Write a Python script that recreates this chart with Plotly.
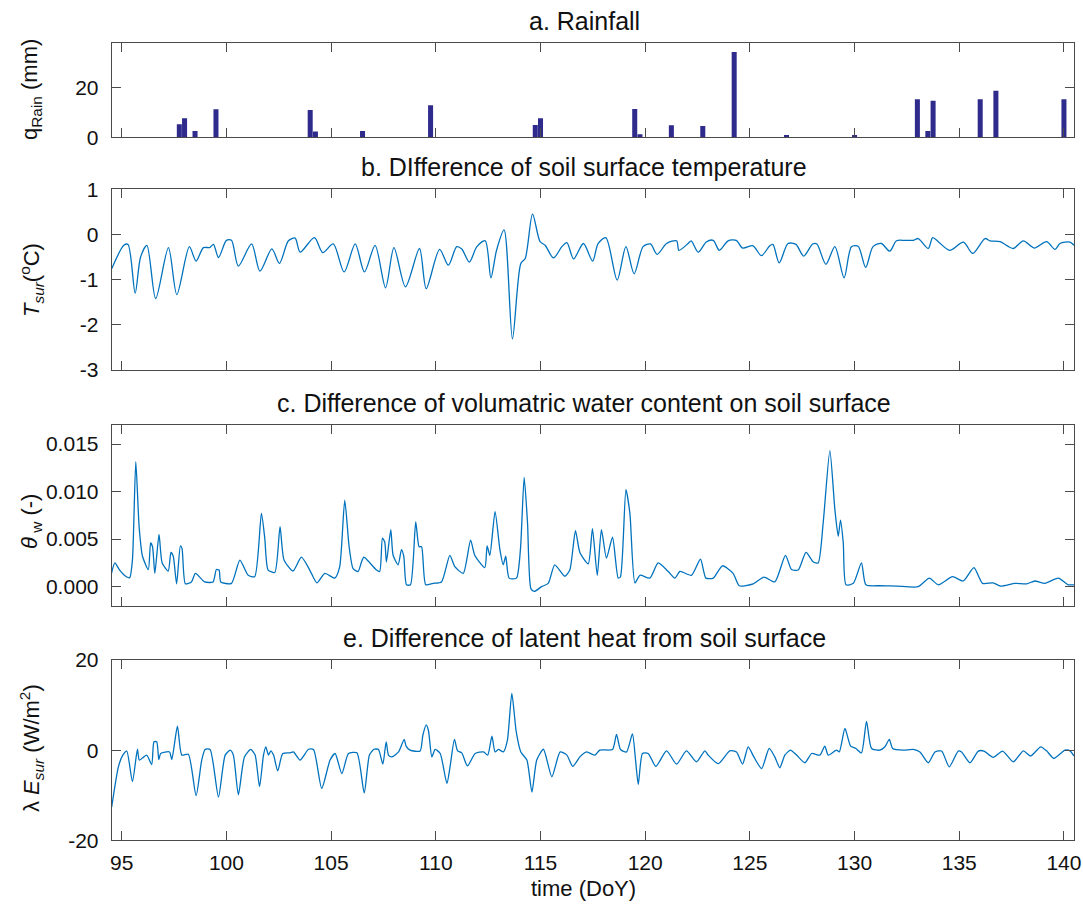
import plotly.graph_objects as go

W, H = 1083, 905

# ---------------- data ----------------
rain_day = [97.75, 98.0, 98.5, 99.5, 104.0, 104.25, 106.5, 109.75, 114.75, 115.0,
            119.5, 119.75, 121.25, 122.75, 124.25, 126.75, 130.0, 133.0, 133.5,
            133.75, 136.0, 136.75, 140.0]
rain_mm = [5.2, 7.6, 2.5, 11.2, 10.9, 2.3, 2.5, 12.8, 4.9, 7.6,
           11.3, 1.2, 4.8, 4.5, 34.1, 0.9, 0.9, 15.2, 2.5,
           14.6, 15.2, 18.6, 15.2]

tsur_day = [94.52, 95.1, 95.3, 95.64, 95.9, 96.2, 96.62, 97.23, 97.63, 98.23,
            98.55, 98.9, 99.2, 99.38, 99.62, 100.0, 100.24, 100.57, 101.2, 101.6,
            102.17, 102.53, 102.96, 103.28, 103.52, 104.2, 104.6, 105.1, 105.62, 106.15,
            106.59, 107.1, 107.6, 108.0, 108.55, 109.22, 109.54, 110.18, 110.6, 111.0,
            111.24, 111.6, 111.96, 112.36, 112.63, 112.9, 113.26, 113.66, 114.06, 114.27,
            114.62, 114.98, 115.22, 115.62, 116.02, 116.26, 116.58, 117.05, 117.49, 117.75,
            118.12, 118.66, 119.08, 119.47, 119.9, 120.25, 120.57, 121.02, 121.5, 121.61,
            122.05, 122.2, 122.53, 122.93, 123.25, 123.54, 123.96, 124.35, 124.65, 125.15,
            125.55, 125.95, 126.1, 126.4, 126.82, 127.2, 127.57, 128.0, 128.2, 128.63,
            129.06, 129.5, 129.85, 130.17, 130.53, 130.88, 131.28, 131.68, 132.0, 132.4,
            132.8, 133.04, 133.52, 133.73, 134.0, 134.54, 135.2, 135.64, 136.23, 136.47,
            136.95, 137.58, 138.06, 138.58, 139.17, 139.57, 139.81, 140.29, 140.48]
tsur_diff = [-0.76, -0.24, -0.22, -1.30, -0.50, -0.24, -1.42, -0.29, -1.33, -0.27,
             -0.59, -0.29, -0.29, -0.22, -0.51, -0.13, -0.13, -0.70, -0.21, -0.81,
             -0.32, -0.64, -0.14, -0.08, -0.39, -0.07, -0.40, -0.21, -0.83, -0.21,
             -0.83, -0.24, -1.18, -0.29, -1.16, -0.31, -1.20, -0.33, -0.68, -0.27,
             -0.32, -0.61, -0.27, -0.14, -0.96, -0.35, 0.10, -2.31, -0.64, -0.53,
             0.45, -0.16, -0.24, -0.52, -0.27, -0.18, -0.54, -0.20, -0.59, -0.20,
             -0.07, -1.01, -0.27, -0.87, -0.27, -0.21, -0.44, -0.20, -0.14, -0.35,
             -0.20, -0.14, -0.39, -0.16, -0.13, -0.35, -0.14, -0.13, -0.30, -0.25,
             -0.47, -0.25, -0.22, -0.63, -0.20, -0.22, -0.48, -0.21, -0.21, -0.66,
             -0.27, -0.96, -0.27, -0.26, -0.73, -0.27, -0.20, -0.37, -0.14, -0.13,
             -0.13, -0.09, -0.31, -0.07, -0.16, -0.35, -0.17, -0.42, -0.09, -0.14,
             -0.16, -0.31, -0.14, -0.30, -0.16, -0.33, -0.20, -0.17, -0.24]

theta_day = [94.51, 94.67, 94.9, 95.22, 95.38, 95.51, 95.67, 95.83, 95.99, 96.27,
             96.38, 96.47, 96.58, 96.78, 96.93, 97.22, 97.35, 97.46, 97.62, 97.8,
             97.88, 98.04, 98.33, 98.52, 98.96, 99.36, 99.52, 99.65, 99.73, 100.24,
             100.64, 101.04, 101.35, 101.67, 101.83, 101.99, 102.31, 102.56, 102.75, 103.18,
             103.58, 103.98, 104.32, 104.7, 105.18, 105.41, 105.65, 105.86, 106.05, 106.29,
             106.45, 106.56, 106.77, 107.17, 107.32, 107.45, 107.56, 107.64, 107.85, 107.96,
             108.2, 108.36, 108.47, 108.6, 108.79, 109.04, 109.2, 109.32, 109.52, 109.87,
             110.27, 110.67, 110.91, 111.31, 111.66, 111.86, 112.34, 112.45, 112.58, 112.83,
             113.06, 113.22, 113.34, 113.5, 113.85, 114.04, 114.22, 114.38, 114.54, 114.7,
             115.05, 115.37, 115.68, 116.16, 116.4, 116.67, 116.88, 117.28, 117.48, 117.71,
             117.91, 118.15, 118.44, 118.71, 118.82, 119.08, 119.27, 119.51, 119.75, 120.22,
             120.62, 121.1, 121.42, 121.66, 122.21, 122.64, 122.9, 123.25, 123.69, 124.2,
             124.49, 125.16, 125.67, 126.19, 126.7, 126.99, 127.31, 127.68, 128.03, 128.26,
             128.5, 128.82, 129.06, 129.22, 129.33, 129.46, 129.59, 129.94, 130.33, 130.54,
             131.21, 132.01, 133.04, 133.57, 134.0, 134.68, 135.19, 135.7, 136.11, 136.62,
             136.97, 137.66, 138.22, 138.61, 139.09, 139.73, 140.21, 140.48]
theta_diff = [0.0014, 0.0025, 0.00175, 0.00105, 0.00095, 0.0028, 0.01314, 0.0063, 0.0032, 0.0018,
              0.0046, 0.0042, 0.0014, 0.0055, 0.0025, 0.00165, 0.0036, 0.0032, 0.0003, 0.0043,
              0.0040, 0.0003, 0.0005, 0.0014, 0.0005, 0.0005, 0.0018, 0.00175, 0.0005, 0.00035,
              0.0028, 0.0012, 0.00105, 0.0077, 0.0051, 0.00175, 0.0015, 0.0063, 0.0028, 0.00165,
              0.0031, 0.00175, 0.0004, 0.0014, 0.0009, 0.0021, 0.0091, 0.0042, 0.0019, 0.0016,
              0.0026, 0.0031, 0.0027, 0.00175, 0.0016, 0.0051, 0.0047, 0.0026, 0.0060, 0.0033,
              0.0023, 0.0039, 0.0032, 0.0002, 0.0002, 0.0068, 0.0042, 0.0042, 0.0002, 0.00035,
              0.0005, 0.0033, 0.0021, 0.0014, 0.0049, 0.0033, 0.0020, 0.0043, 0.0033, 0.0079,
              0.0039, 0.0023, 0.0032, 0.0009, 0.0009, 0.0039, 0.0115, 0.0067, -0.0002, -0.0005,
              0.0, 0.00035, 0.0023, 0.0011, 0.00175, 0.0059, 0.0036, 0.0024, 0.0061, 0.0012,
              0.0060, 0.0030, 0.0052, 0.0009, 0.00105, 0.0102, 0.0077, 0.0004, 0.0012, 0.0009,
              0.0025, 0.0016, 0.0009, 0.0016, 0.0012, 0.0029, 0.0009, 0.0009, 0.0022, 0.0014,
              0.0001, 0.0003, 0.0010, 0.0005, 0.0033, 0.0018, 0.00175, 0.0036, 0.0026, 0.0025,
              0.0067, 0.0143, 0.0081, 0.0053, 0.0070, 0.0046, 0.0002, 0.00035, 0.0025, 0.0002,
              0.0001, 0.00007, 0.0, 0.0009, 0.0002, 0.00105, 0.0006, 0.0020, 0.00035, 0.0004,
              0.00007, 0.00035, 0.0003, 0.0006, 0.00035, 0.0009, 0.0002, 0.0002]

le_day = [94.52, 94.84, 95.05, 95.24, 95.51, 95.75, 95.84, 96.19, 96.43, 96.54,
          96.67, 96.77, 96.86, 97.28, 97.39, 97.66, 97.87, 98.18, 98.55, 98.82,
          98.98, 99.22, 99.62, 99.94, 100.18, 100.33, 100.57, 100.86, 101.16, 101.37,
          101.58, 101.77, 101.88, 102.01, 102.12, 102.25, 102.45, 102.69, 103.04, 103.2,
          103.52, 103.92, 104.16, 104.55, 104.95, 105.19, 105.51, 105.83, 106.23, 106.58,
          106.83, 107.05, 107.26, 107.47, 107.63, 107.74, 107.9, 108.22, 108.49, 108.58,
          108.77, 109.25, 109.38, 109.54, 109.65, 109.81, 109.97, 110.21, 110.53, 110.68,
          110.89, 111.04, 111.24, 111.51, 111.88, 112.28, 112.48, 112.68, 112.83, 112.99,
          113.23, 113.42, 113.63, 113.84, 114.06, 114.35, 114.59, 114.82, 115.14, 115.54,
          115.94, 116.26, 116.54, 116.88, 117.2, 117.6, 117.83, 118.44, 118.63, 118.82,
          119.11, 119.39, 119.54, 119.67, 119.87, 120.14, 120.51, 121.02, 121.5, 121.97,
          122.45, 122.85, 123.01, 123.49, 124.04, 124.36, 124.65, 124.92, 125.19, 125.56,
          125.92, 126.19, 126.43, 126.67, 126.94, 127.23, 127.63, 127.95, 128.34, 128.58,
          128.74, 129.14, 129.27, 129.54, 129.81, 130.06, 130.33, 130.57, 130.81, 131.21,
          131.45, 131.66, 131.82, 132.32, 132.8, 133.12, 133.52, 133.84, 134.16, 134.52,
          134.95, 135.11, 135.51, 135.91, 136.18, 136.62, 137.07, 137.58, 138.06, 138.41,
          138.89, 139.17, 139.52, 140.05, 140.29, 140.48]
le_diff = [-12.6, -3.7, -1.1, -0.2, -7.0, 0.2, -2.2, -1.1, -3.2, 1.85,
           1.85, -2.1, -0.74, -0.4, -2.1, 5.3, -1.1, -0.9, -10.1, -2.2,
           0.15, 0.15, -10.4, -1.1, 0.0, -1.1, -9.9, -1.5, 0.15, -1.1,
           -8.1, -1.1, 0.74, -1.1, -0.15, -1.1, -4.6, -0.74, -0.6, -0.4,
           -2.2, 0.2, 0.15, -8.5, -2.2, -0.74, -5.2, -0.74, -0.6, -9.5,
           -1.1, 0.2, 0.15, -3.1, 1.85, -1.1, -1.5, -0.4, 2.4, 0.9,
           0.0, -0.2, 3.3, 5.6, 4.3, -1.5, 0.15, -0.74, -7.4, -3.7,
           2.4, -0.15, -0.6, -3.5, -0.74, -0.4, -1.1, 3.1, -0.4, 0.15,
           -0.4, 2.2, 12.6, 4.1, -0.4, -2.2, -9.3, -2.2, 0.2, -5.9,
           -0.4, -1.1, -3.6, -1.5, -0.4, -1.1, 0.0, 0.15, 3.5, 0.15,
           -0.4, 3.6, -2.2, -7.6, -0.74, -0.74, -3.6, -0.15, -3.1, -0.15,
           -2.6, -0.15, -1.1, -3.0, -0.15, -0.4, -3.1, 0.74, -1.5, -4.1,
           0.37, -1.5, -3.9, -1.1, 0.0, -1.1, -2.8, -0.74, -1.1, 0.9,
           -1.1, 0.0, -0.4, 4.8, 0.9, 0.37, -0.6, 6.4, 0.37, 0.0,
           0.74, 2.4, 0.37, 0.0, 0.15, -0.4, -2.8, -0.4, -0.2, -3.7,
           -0.2, -0.4, -2.8, -0.2, -0.2, -1.6, -0.2, -2.6, -0.15, -1.3,
           0.74, -0.15, -1.85, 0.0, -0.15, -1.3]

x_ticks = [95, 100, 105, 110, 115, 120, 125, 130, 135, 140]
x_range = [94.52, 140.48]

rain_ticks = [0, 20]
tsur_ticks = [-3, -2, -1, 0, 1]
theta_ticks = [0.0, 0.005, 0.010, 0.015]
le_ticks = [-20, 0, 20]

# ---------------- layout helpers ----------------
FONT = "Liberation Sans, Arial, Helvetica, sans-serif"
LINE_BLUE = "#0072BD"
BAR_BLUE = "#2e2b8c"
AX_COL = "#4a4a4a"
TXT = "#111111"

# panel vertical extents in pixels (top, bottom)
panels = {
    "a": (42.7, 137.3),
    "b": (189.3, 370.0),
    "c": (425.0, 606.0),
    "e": (660.0, 840.3),
}
x_dom = [111.7 / W, 1074.0 / W]


def ydom(top, bottom):
    return [1 - bottom / H, 1 - top / H]


def labels(vals, fmt="{:g}"):
    # plain hyphen-minus for negative tick labels
    return [fmt.format(v) for v in vals]


fig = go.Figure()

fig.add_trace(go.Bar(x=rain_day, y=rain_mm, width=0.24, marker_color=BAR_BLUE,
                     marker_line_width=0, xaxis="x", yaxis="y"))
fig.add_trace(go.Scatter(x=tsur_day, y=tsur_diff, mode="lines",
                         line=dict(color=LINE_BLUE, width=1.3, shape="spline", smoothing=0.8),
                         xaxis="x2", yaxis="y2"))
fig.add_trace(go.Scatter(x=theta_day, y=theta_diff, mode="lines",
                         line=dict(color=LINE_BLUE, width=1.3, shape="spline", smoothing=0.6),
                         xaxis="x3", yaxis="y3"))
fig.add_trace(go.Scatter(x=le_day, y=le_diff, mode="lines",
                         line=dict(color=LINE_BLUE, width=1.3, shape="spline", smoothing=0.6),
                         xaxis="x4", yaxis="y4"))

common_axis = dict(showline=True, linecolor=AX_COL, linewidth=1, mirror="ticks",
                   ticks="inside", ticklen=9, tickcolor=AX_COL, tickwidth=1,
                   showgrid=False, zeroline=False, automargin=False,
                   tickfont=dict(family=FONT, size=21, color=TXT))

layout = dict(width=W, height=H, margin=dict(l=0, r=0, t=0, b=0, autoexpand=False),
              paper_bgcolor="white", plot_bgcolor="white", showlegend=False,
              font=dict(family=FONT, color=TXT))

keys = ["a", "b", "c", "e"]
y_specs = [
    dict(range=[0, 37.8], tickvals=rain_ticks, ticktext=labels(rain_ticks)),
    dict(range=[-3, 1], tickvals=tsur_ticks, ticktext=labels(tsur_ticks)),
    dict(range=[-0.00203, 0.017], tickvals=theta_ticks, ticktext=labels(theta_ticks, "{:.3f}")),
    dict(range=[-20, 20], tickvals=le_ticks, ticktext=labels(le_ticks)),
]
for i, (k, ys) in enumerate(zip(keys, y_specs), start=1):
    sfx = "" if i == 1 else str(i)
    top, bot = panels[k]
    xa = dict(common_axis, domain=x_dom, range=x_range, tickvals=x_ticks,
              ticktext=labels(x_ticks), anchor="y" + sfx,
              showticklabels=(i == 4), ticklabelstandoff=3)
    ya = dict(common_axis, domain=ydom(top, bot), anchor="x" + sfx, ticklabelstandoff=8, **ys)
    layout["xaxis" + sfx] = xa
    layout["yaxis" + sfx] = ya

fig.update_layout(**layout)

titles = {
    "a": "a. Rainfall",
    "b": "b. DIfference of soil surface temperature",
    "c": "c. Difference of volumatric water content on soil surface",
    "e": "e. Difference of latent heat from soil surface",
}
for k, txt in titles.items():
    top, _ = panels[k]
    fig.add_annotation(text=txt, xref="paper", yref="paper", x=584 / W, y=1 - (top - 22) / H,
                       xanchor="center", yanchor="middle", showarrow=False,
                       font=dict(family=FONT, size=25, color=TXT))

ylabels = {
    "a": ("q<sub>Rain</sub> (mm)", 90),
    "b": ("<i>T</i><sub><i>sur</i></sub>(<sup>o</sup>C)", 280),
    "c": ("<i>θ</i><sub> w</sub> (-)", 522),
    "e": ("λ <i>E</i><sub><i>sur</i></sub> (W/m<sup>2</sup>)", 748),
}
for k, (txt, yc) in ylabels.items():
    fig.add_annotation(text=txt, xref="paper", yref="paper", x=31 / W, y=1 - yc / H,
                       xanchor="center", yanchor="middle", textangle=-90, showarrow=False,
                       font=dict(family=FONT, size=22, color=TXT))

fig.add_annotation(text="time (DoY)", xref="paper", yref="paper", x=583 / W, y=1 - 888 / H,
                   xanchor="center", yanchor="middle", showarrow=False,
                   font=dict(family=FONT, size=22, color=TXT))

fig.write_html("out.html")
